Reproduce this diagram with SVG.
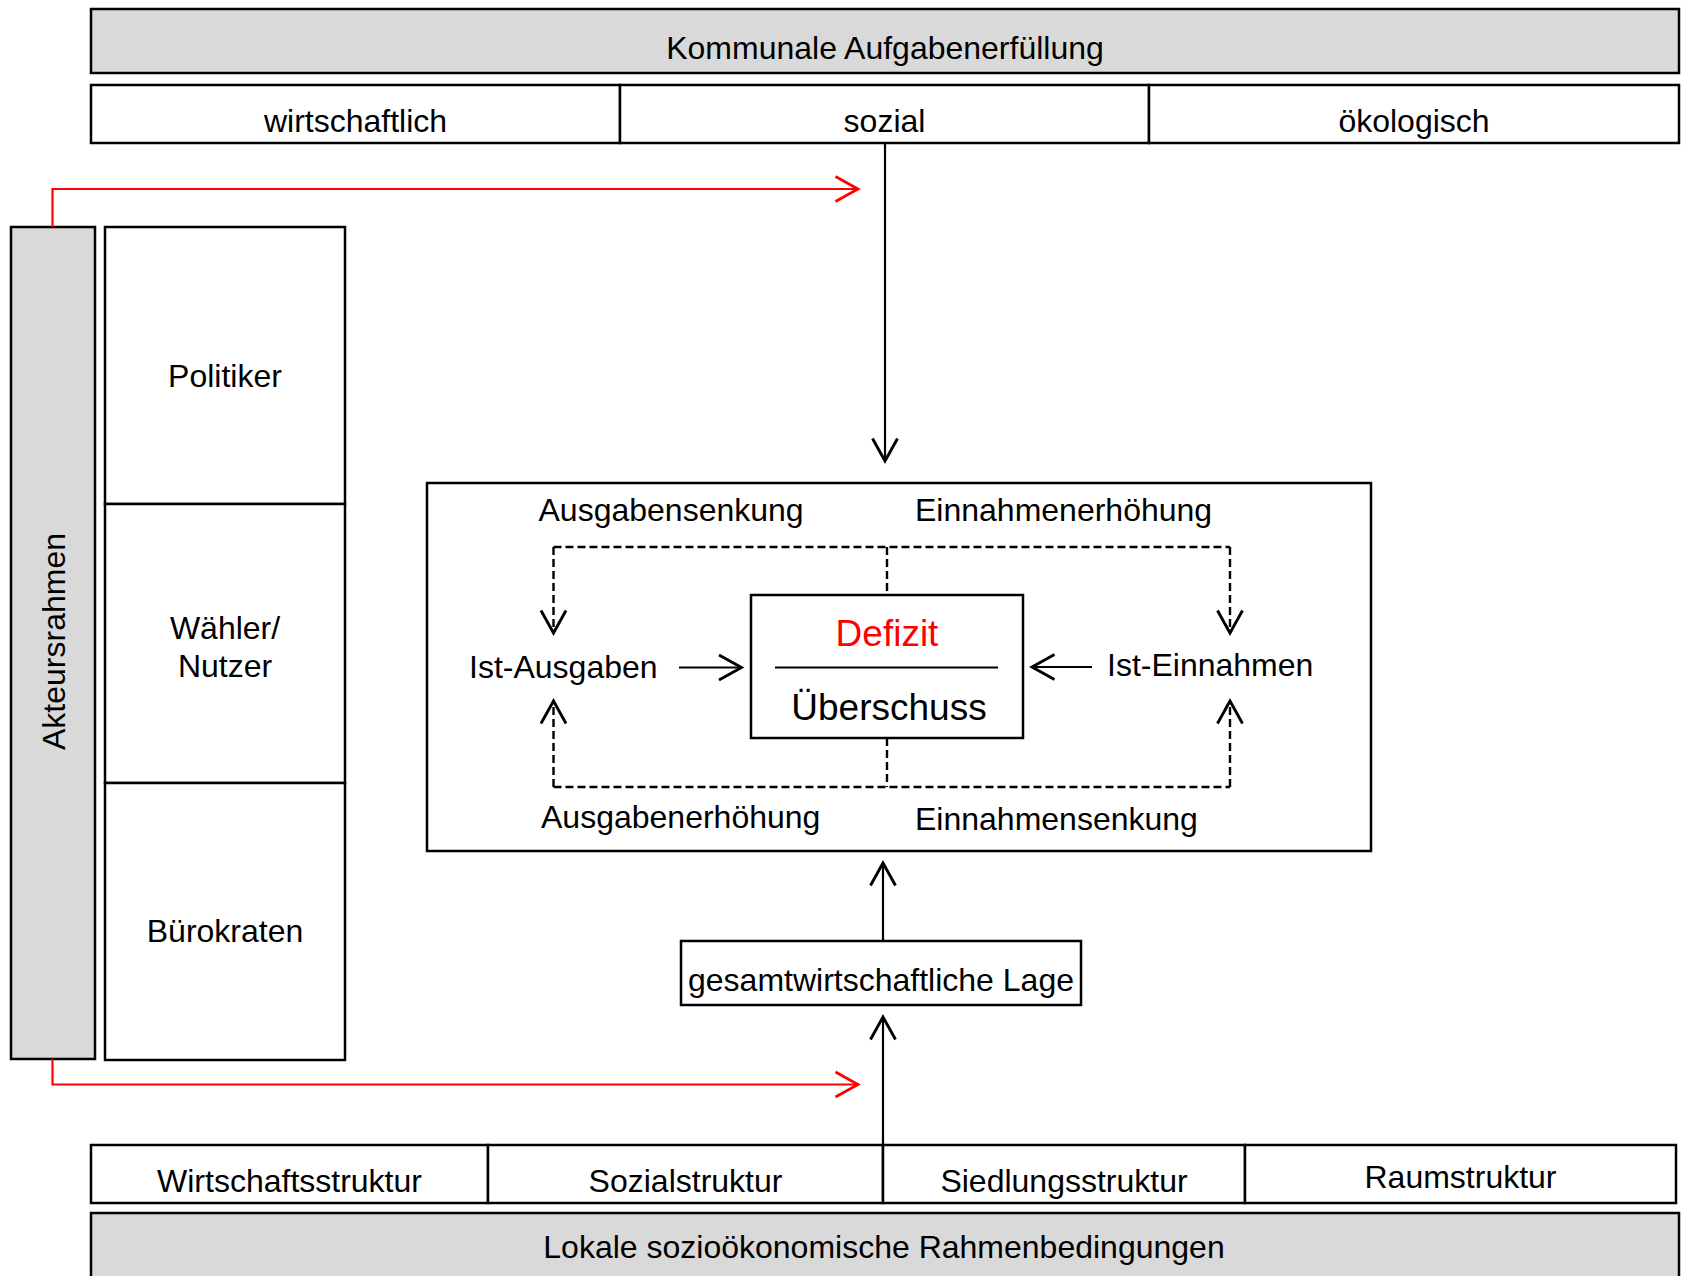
<svg xmlns="http://www.w3.org/2000/svg" width="1682" height="1276" viewBox="0 0 1682 1276">
<style>
.box{fill:#ffffff;stroke:#000;stroke-width:2.5}
.gray{fill:#d9d9d9;stroke:#000;stroke-width:2.5}
text{font-family:"Liberation Sans",Arial,sans-serif;font-size:32px;fill:#000}
.mid{text-anchor:middle}
.big{font-size:37px}
.red{fill:#ff0000}
.line{fill:none;stroke:#000;stroke-width:2.2}
.dash{fill:none;stroke:#000;stroke-width:2.4;stroke-dasharray:8 4}
.rline{fill:none;stroke:#ff0000;stroke-width:2.2}
</style>
<defs>
<marker id="ah" markerUnits="userSpaceOnUse" markerWidth="30" markerHeight="30" viewBox="-20 -12 24 24" refX="0" refY="0" orient="auto" overflow="visible">
<path d="M-18,-10 L0,0 L-18,10" fill="none" stroke="#000" stroke-width="2.3" stroke-dasharray="none"/>
</marker>
<marker id="ahr" markerUnits="userSpaceOnUse" markerWidth="30" markerHeight="30" viewBox="-20 -12 24 24" refX="0" refY="0" orient="auto" overflow="visible">
<path d="M-18,-10 L0,0 L-18,10" fill="none" stroke="#ff0000" stroke-width="2.2"/>
</marker>
</defs>

<g id="kommunale">
<rect class="gray" x="91" y="9" width="1588" height="64"/>
<text class="mid" x="885" y="59">Kommunale Aufgabenerfüllung</text>
</g>
<g id="wirtschaftlich">
<rect class="box" x="91" y="85" width="529" height="58"/>
<text class="mid" x="355.5" y="131.5">wirtschaftlich</text>
</g>
<g id="sozial">
<rect class="box" x="620" y="85" width="529" height="58"/>
<text class="mid" x="884.5" y="131.5">sozial</text>
</g>
<g id="oekologisch">
<rect class="box" x="1149" y="85" width="530" height="58"/>
<text class="mid" x="1414" y="131.5">ökologisch</text>
</g>

<g id="akteursrahmen">
<rect class="gray" x="11" y="227" width="84" height="832"/>
<text class="mid" transform="translate(65,641.5) rotate(-90)">Akteursrahmen</text>
</g>
<g id="politiker">
<rect class="box" x="105" y="227" width="240" height="277"/>
<text class="mid" x="225" y="386.5">Politiker</text>
</g>
<g id="waehler">
<rect class="box" x="105" y="504" width="240" height="279"/>
<text class="mid" x="225" y="638.5">Wähler/</text>
<text class="mid" x="225" y="677">Nutzer</text>
</g>
<g id="buerokraten">
<rect class="box" x="105" y="783" width="240" height="277"/>
<text class="mid" x="225" y="942">Bürokraten</text>
</g>

<g id="haushalt">
<rect class="box" x="427" y="483" width="944" height="368"/>
<text x="538.5" y="521">Ausgabensenkung</text>
<text x="915" y="521">Einnahmenerhöhung</text>
<text x="541" y="828">Ausgabenerhöhung</text>
<text x="915" y="830">Einnahmensenkung</text>
<text x="469" y="678">Ist-Ausgaben</text>
<text x="1107" y="676">Ist-Einnahmen</text>
</g>
<g id="saldo">
<rect class="box" x="751" y="595" width="272" height="143"/>
<line class="line" x1="775" y1="667.5" x2="998" y2="667.5" stroke-width="2.5"/>
<text class="mid big red" x="887" y="646">Defizit</text>
<text class="mid big" x="889" y="720">Überschuss</text>
</g>

<g id="gesamtwirtschaftliche-lage">
<rect class="box" x="681" y="941" width="400" height="64"/>
<text class="mid" x="881" y="991">gesamtwirtschaftliche Lage</text>
</g>

<g id="wirtschaftsstruktur">
<rect class="box" x="91" y="1145" width="397" height="58"/>
<text class="mid" x="289.5" y="1191.5">Wirtschaftsstruktur</text>
</g>
<g id="sozialstruktur">
<rect class="box" x="488" y="1145" width="395" height="58"/>
<text class="mid" x="685.5" y="1191.5">Sozialstruktur</text>
</g>
<g id="siedlungsstruktur">
<rect class="box" x="883" y="1145" width="362" height="58"/>
<text class="mid" x="1064" y="1191.5">Siedlungsstruktur</text>
</g>
<g id="raumstruktur">
<rect class="box" x="1245" y="1145" width="431" height="58"/>
<text class="mid" x="1460.5" y="1188">Raumstruktur</text>
</g>
<g id="lokale">
<rect class="gray" x="91" y="1213" width="1588" height="75"/>
<text class="mid" x="884" y="1258">Lokale sozioökonomische Rahmenbedingungen</text>
</g>

<g id="connectors">
<polyline class="rline" points="52.5,227 52.5,189 858,189" marker-end="url(#ahr)"/>
<polyline class="rline" points="52.5,1059 52.5,1084.5 858,1084.5" marker-end="url(#ahr)"/>
<line class="line" x1="885" y1="143" x2="885" y2="461" marker-end="url(#ah)"/>
<line class="line" x1="883" y1="941" x2="883" y2="863" marker-end="url(#ah)"/>
<line class="line" x1="883" y1="1145" x2="883" y2="1017" marker-end="url(#ah)"/>
<line class="line" x1="679" y1="667.5" x2="741.5" y2="667.5" marker-end="url(#ah)"/>
<line class="line" x1="1092" y1="667" x2="1032" y2="667" marker-end="url(#ah)"/>
<line class="dash" x1="553.5" y1="547" x2="1230" y2="547"/>
<line class="dash" x1="887" y1="547" x2="887" y2="595"/>
<line class="dash" x1="553.5" y1="547" x2="553.5" y2="633" marker-end="url(#ah)"/>
<line class="dash" x1="1230" y1="547" x2="1230" y2="633" marker-end="url(#ah)"/>
<line class="dash" x1="553.5" y1="787" x2="1230" y2="787"/>
<line class="dash" x1="887" y1="738" x2="887" y2="787"/>
<line class="dash" x1="553.5" y1="787" x2="553.5" y2="701" marker-end="url(#ah)"/>
<line class="dash" x1="1230" y1="787" x2="1230" y2="701" marker-end="url(#ah)"/>
</g>
</svg>
